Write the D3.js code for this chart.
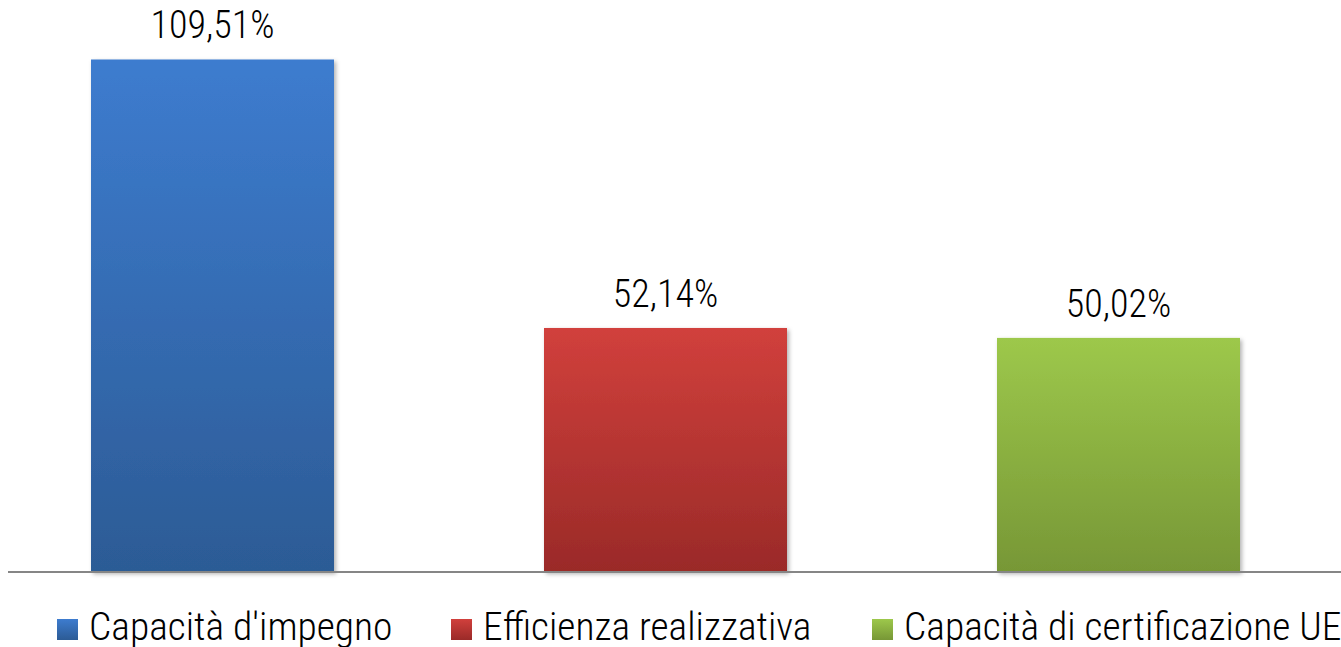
<!DOCTYPE html>
<html>
<head>
<meta charset="utf-8">
<script src="https://cdn.jsdelivr.net/npm/d3@7"></script>
<style>
  body { margin: 0; background: #fff; }
  svg text { font-family: "Roboto Condensed", Roboto, sans-serif; font-weight: 300; }
</style>
</head>
<body>
<div id="chart"></div>
<script>
// data
const categories = ["Capacità d'impegno", "Efficienza realizzativa", "Capacità di certificazione UE"];
const values = [109.51, 52.14, 50.02];
const valueLabels = ["109,51%", "52,14%", "50,02%"];
const topColors = ["#3d7ccf", "#d1403c", "#9dc84b"];
const bottomColors = ["#2c5b95", "#9a2a28", "#779736"];

const width = 1341, height = 647;
const baseY = 572;

const svg = d3.select("#chart").append("svg")
  .attr("width", width)
  .attr("height", height);

const defs = svg.append("defs");
categories.forEach((c, i) => {
  const g = defs.append("linearGradient")
    .attr("id", "grad" + i)
    .attr("x1", 0).attr("y1", 0).attr("x2", 0).attr("y2", 1);
  g.append("stop").attr("offset", "0%").attr("stop-color", topColors[i]);
  g.append("stop").attr("offset", "100%").attr("stop-color", bottomColors[i]);
});
const shadow = defs.append("filter").attr("id", "shadow")
  .attr("x", "-5%").attr("y", "-5%").attr("width", "115%").attr("height", "115%");
shadow.append("feDropShadow")
  .attr("dx", 2).attr("dy", 2).attr("stdDeviation", 2)
  .attr("flood-color", "#000").attr("flood-opacity", 0.3);

const x = d3.scaleBand()
  .domain(categories)
  .range([-14, 1345])
  .paddingInner(0.4636)
  .paddingOuter(0.2318);

const y = d3.scaleLinear()
  .domain([0, 120])
  .range([baseY, baseY - 120 * 4.68]);

svg.append("g")
  .selectAll("rect")
  .data(categories)
  .enter()
  .append("rect")
  .attr("x", d => x(d))
  .attr("y", (d, i) => y(values[i]))
  .attr("width", x.bandwidth())
  .attr("height", (d, i) => y(0) - y(values[i]))
  .attr("fill", (d, i) => `url(#grad${i})`)
  .attr("filter", "url(#shadow)");

// baseline
svg.append("line")
  .attr("x1", 8).attr("x2", width)
  .attr("y1", y(0)).attr("y2", y(0))
  .attr("stroke", "#868686")
  .attr("stroke-width", 2);

svg.append("g")
  .selectAll("text")
  .data(categories)
  .enter()
  .append("text")
  .attr("x", d => x(d) + x.bandwidth() / 2)
  .attr("y", (d, i) => y(values[i]) - 21)
  .attr("text-anchor", "middle")
  .attr("font-size", 38)
  .attr("fill", "#000")
  .text((d, i) => valueLabels[i]);

// legend
const legendX = [57, 451, 872];
const legend = svg.append("g");
categories.forEach((c, i) => {
  const g = legend.append("g").attr("transform", `translate(${legendX[i]},619)`);
  g.append("rect")
    .attr("width", 21).attr("height", 21)
    .attr("fill", `url(#grad${i})`);
  g.append("text")
    .attr("x", 32)
    .attr("y", 21)
    .attr("font-size", 39.5)
    .attr("fill", "#000")
    .text(c);
});
</script>
</body>
</html>
